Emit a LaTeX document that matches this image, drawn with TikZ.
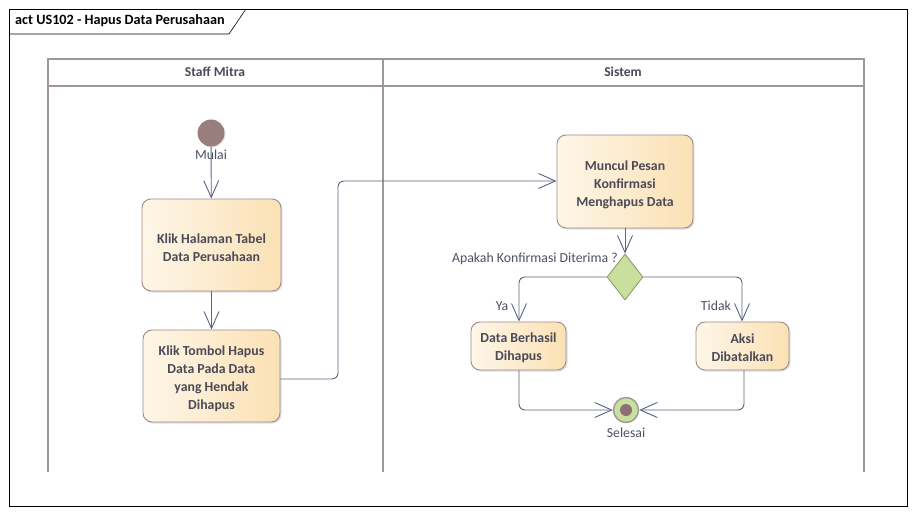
\documentclass[tikz,border=0pt]{standalone}
\usepackage{fontspec}
\setmainfont{Carlito}
\usetikzlibrary{arrows.meta,shapes.geometric,shadows,calc}
\definecolor{edgec}{HTML}{5A6482}
\definecolor{boxline}{HTML}{A08A8A}
\definecolor{boxL}{HTML}{FEF6E8}
\definecolor{boxR}{HTML}{FBE1B4}
\definecolor{txt}{HTML}{4A4A58}
\definecolor{lbl}{HTML}{4C5262}
\definecolor{lane}{HTML}{A09898}
\definecolor{startc}{HTML}{9A7E7E}
\definecolor{decf}{HTML}{C8DF9E}
\definecolor{decl}{HTML}{8E9E6A}
\tikzset{
  x=1pt,y=-1pt,
  act/.style={draw=boxline,line width=0.9pt,rounded corners=9pt,left color=boxL,right color=boxR,
    drop shadow={shadow xshift=1.5pt,shadow yshift=-1.5pt,opacity=0.25},inner sep=0pt},
  acttxt/.style={align=center,text=txt,font=\fontsize{13.8}{18}\selectfont\bfseries,inner sep=0pt,yshift=-3pt},
  flow/.style={draw=edgec,line width=0.9pt,-{Straight Barb[length=17pt,width=15pt,line width=0.9pt]},rounded corners=6pt},
  lbltxt/.style={text=lbl,font=\fontsize{13.8}{16}\selectfont,inner sep=0pt},
  lanetxt/.style={text=txt,font=\fontsize{13.6}{16}\selectfont\bfseries,inner sep=0pt},
  laneline/.style={draw=lane,line width=1.6pt},
}
\begin{document}
\begin{tikzpicture}
\useasboundingbox[fill=white] (0,0) rectangle (916,514);
% frame
\draw[black,line width=0.6pt] (9,9) rectangle (907,506);
\draw[black,line width=0.6pt] (9,34) -- (229,34) -- (246,9);
\node[anchor=west,inner sep=0pt,font=\fontsize{14.2}{16}\selectfont\bfseries] (title) at (15,21) {act US102 - Hapus Data Perusahaan};
% lanes
\draw[laneline] (48,472) -- (48,59) -- (864,59) -- (864,472);
\draw[laneline] (48,86) -- (864,86);
\draw[laneline] (383,59) -- (383,472);
\node[lanetxt] (l1) at (215,72) {Staff Mitra};
\node[lanetxt] (l2) at (623,72) {Sistem};
% nodes
\node[circle,fill=startc,minimum size=27pt,inner sep=0pt,drop shadow={shadow xshift=1pt,shadow yshift=-1pt,opacity=0.2}] (start) at (211,133) {};
\node[lbltxt] (mulai) at (211,155) {Mulai};
\node[act,minimum width=139pt,minimum height=92pt,label={[acttxt]center:{Klik Halaman Tabel\\Data Perusahaan}}] (a1) at (211.5,245) {};
\node[act,minimum width=137pt,minimum height=92pt,label={[acttxt]center:{Klik Tombol Hapus\\Data Pada Data\\yang Hendak\\Dihapus}}] (a2) at (211.5,376) {};
\node[act,minimum width=136pt,minimum height=93pt,label={[acttxt]center:{Muncul Pesan\\Konfirmasi\\Menghapus Data}}] (a3) at (625,181.5) {};
\node[diamond,draw=decl,fill=decf,line width=0.9pt,minimum width=36pt,minimum height=46pt,inner sep=0pt,aspect=0.78] (dec) at (625,277) {};
\node[lbltxt,anchor=east] (q) at (618,259) {Apakah Konfirmasi Diterima ?};
\node[act,minimum width=95pt,minimum height=48pt,label={[acttxt,yshift=1pt]center:{Data Berhasil\\Dihapus}}] (a4) at (518.5,346) {};
\node[act,minimum width=93pt,minimum height=48pt,label={[acttxt,yshift=1pt]center:{Aksi\\Dibatalkan}}] (a5) at (742.5,346) {};
\node[circle,draw=lane,line width=1.4pt,fill=decf,minimum size=25pt,inner sep=0pt] (fin) at (626,410) {};
\node[circle,fill=startc!90!black,minimum size=12pt,inner sep=0pt] (finin) at (626,410) {};
\node[lbltxt] (sel) at (626,433) {Selesai};
% edges
\draw[flow] (start) -- (a1);
\draw[flow] (a1) -- (a2);
\draw[flow] (a2.east |- 0,379) -- (338,379) -- (338,181) -- (a3.west |- 0,181);
\draw[flow] (a3) -- (dec);
\draw[flow] (dec.west) -- (519,277) -- (a4.north -| 519,0);
\draw[flow] (dec.east) -- (742,277) -- (a5.north -| 742,0);
\draw[flow] (a4.south -| 519,0) -- (519,410) -- (fin.west);
\draw[flow] (a5.south -| 744,0) -- (744,410) -- (fin.east);
\node[lbltxt] (ya) at (502,306) {Ya};
\node[lbltxt] (tidak) at (716,306) {Tidak};
\end{tikzpicture}
\end{document}
